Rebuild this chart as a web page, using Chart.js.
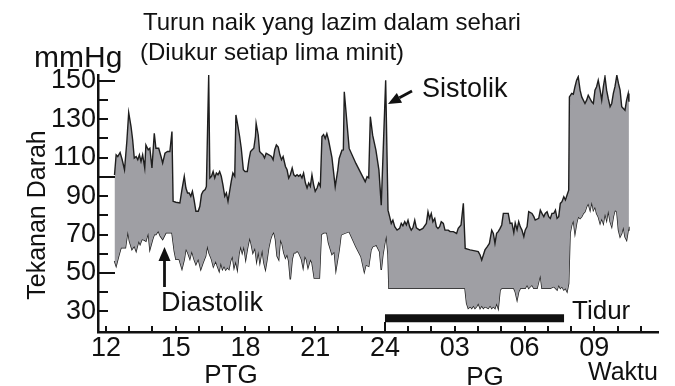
<!DOCTYPE html>
<html>
<head>
<meta charset="utf-8">
<title>Turun naik tekanan darah dalam sehari</title>
<script src="https://cdn.jsdelivr.net/npm/chart.js@4.4.0/dist/chart.umd.min.js"></script>
<style>
  html, body { margin: 0; padding: 0; background: #fff; }
</style>
</head>
<body>
<canvas id="bp" width="675" height="386"></canvas>
<script>
// time in hours from noon (24 = midnight, 33 = 09:00 next day), readings in mmHg
const sysTime = [12.37,12.44,12.51,12.61,12.70,12.80,12.90,12.98,13.08,13.15,13.22,13.30,13.37,13.44,13.51,13.58,13.67,13.72,13.82,13.89,13.98,14.08,14.15,14.27,14.37,14.44,14.54,14.65,14.75,14.84,14.89,15.01,15.18,15.27,15.37,15.44,15.51,15.58,15.65,15.72,15.79,15.87,15.97,16.04,16.11,16.18,16.27,16.32,16.42,16.47,16.54,16.61,16.68,16.75,16.82,16.89,16.96,17.03,17.11,17.18,17.25,17.32,17.39,17.46,17.54,17.59,17.68,17.75,17.82,17.91,17.98,18.08,18.15,18.22,18.29,18.36,18.43,18.46,18.55,18.61,18.68,18.75,18.82,18.89,19.01,19.12,19.19,19.26,19.33,19.41,19.48,19.55,19.62,19.72,19.79,19.86,19.93,20.01,20.08,20.15,20.22,20.29,20.36,20.43,20.50,20.58,20.65,20.72,20.79,20.86,20.93,21.00,21.08,21.15,21.22,21.29,21.36,21.43,21.50,21.57,21.72,21.86,21.97,22.03,22.15,22.21,22.25,22.46,22.75,23.04,23.15,23.23,23.30,23.37,23.47,23.61,23.74,23.84,24.03,24.13,24.20,24.27,24.34,24.42,24.52,24.63,24.70,24.77,24.85,24.92,24.99,25.06,25.13,25.20,25.28,25.35,25.49,25.63,25.78,25.85,25.92,25.99,26.06,26.14,26.21,26.28,26.35,26.42,26.51,26.58,26.72,26.80,26.94,27.08,27.15,27.27,27.37,27.45,27.66,27.87,28.01,28.09,28.16,28.23,28.30,28.40,28.49,28.59,28.66,28.73,28.80,28.87,28.95,29.02,29.09,29.19,29.30,29.38,29.46,29.54,29.60,29.68,29.75,29.82,29.89,29.97,30.03,30.11,30.18,30.32,30.40,30.46,30.61,30.68,30.75,30.83,30.89,30.97,31.04,31.11,31.18,31.26,31.33,31.40,31.47,31.54,31.61,31.69,31.76,31.83,31.90,31.93,32.03,32.10,32.17,32.24,32.31,32.39,32.46,32.60,32.67,32.74,32.89,32.96,33.03,33.10,33.17,33.25,33.32,33.39,33.46,33.53,33.60,33.68,33.75,33.82,33.89,33.97,34.04,34.11,34.18,34.25,34.32,34.39,34.46,34.49]
const sysVal = [101,111.5,110.6,112.7,108.9,103.7,118.4,133.4,126.2,119.3,109.8,110.6,108.9,111.5,108,111.5,104.6,116.6,114.1,114.9,104.6,122.7,114.9,114.9,110.6,107.2,112.3,113.2,113.2,123.6,87.3,86.8,86.4,93.4,100.3,94.2,91.6,91.6,89.9,92.5,88.2,82.1,82.1,84.7,90.8,92.5,93.4,95,153,99.4,100.3,102.8,99.4,102,101.1,102.8,100.3,96,89.9,91.6,87.3,92.5,97.7,102,100.3,132.2,126.2,121,114.9,103.7,102.8,102.8,108.9,113.2,114.1,114.9,121,127.9,121.8,113.2,112.3,111.5,109.8,112.3,111.5,110.6,108.9,114.1,116.6,115.5,111.5,108.9,110.6,105.4,103.7,99.4,101.1,104.6,101.1,100.3,101.1,100.3,101.1,99.4,102,96.8,94.2,96.8,95.1,101.1,96,92.5,94.2,96.8,95.1,121,122,120,122.5,119.3,110,94.9,103.5,109.6,113.9,114,144.3,114.8,107,100.1,97.5,100.1,99.5,131.3,121.7,113.9,103.5,85.3,150.3,82.7,79.3,75.8,77.5,74.1,72.3,73.2,75.8,74.5,76.7,75,77.5,74.1,72.3,73.5,77.5,73.5,72.3,73.2,75.8,81.9,78.4,81,76.7,78.4,74.1,73.2,74.1,76.7,75.8,72.3,72.3,71.5,71.5,70.6,73.2,75,86.2,62.8,62,61.5,61.1,59.4,56.8,59.4,62,63.7,65.4,72.3,70.6,65.4,70.6,71.5,73.2,75,81,81,81,75.8,76,71,76,72.5,76.7,74,72.3,68.9,72.3,74.1,81.9,81,79.3,77.5,78.4,82.7,81,79.3,81,81.9,79.3,78.4,81,81,82.7,78.4,79.3,86.2,87.1,89.7,88,90.6,93.1,141.6,143.4,143,146.9,150.3,152.1,145.1,141.6,138.2,139.9,142.5,139.1,138.2,145.1,146.9,150.3,145.1,139.9,146.9,152.1,145.1,140.8,136.5,138.2,143.4,146.9,152.9,148.6,145.1,136.5,135.6,134.7,139.9,143.4,139.1]

const diaTime = [12.37,12.44,12.55,12.65,12.75,12.84,12.94,13.01,13.12,13.22,13.30,13.41,13.47,13.55,13.65,13.72,13.82,13.89,14.01,14.08,14.15,14.25,14.34,14.44,14.58,14.72,14.84,14.94,15.01,15.15,15.27,15.37,15.44,15.52,15.61,15.69,15.79,15.87,15.97,16.08,16.18,16.29,16.36,16.43,16.54,16.62,16.72,16.79,16.87,16.94,17.01,17.08,17.15,17.22,17.29,17.36,17.44,17.51,17.58,17.65,17.72,17.79,17.86,17.93,18.01,18.08,18.18,18.25,18.32,18.41,18.48,18.55,18.62,18.72,18.79,18.86,18.93,19.00,19.08,19.15,19.22,19.29,19.36,19.43,19.50,19.58,19.65,19.72,19.79,19.86,19.93,20.01,20.08,20.15,20.22,20.29,20.41,20.48,20.55,20.62,20.69,20.79,20.86,20.96,21.08,21.18,21.26,21.36,21.50,21.57,21.72,21.82,21.89,22.03,22.11,22.25,22.46,22.75,22.97,23.11,23.18,23.30,23.40,23.47,23.63,23.77,23.84,23.91,23.99,24.06,24.13,24.17,24.5,25,25.5,26,26.5,27,27.44,27.51,27.58,27.66,27.73,27.80,27.87,27.94,28.01,28.09,28.16,28.23,28.30,28.44,28.52,28.59,28.66,28.73,28.80,28.87,28.95,29.02,29.54,29.60,29.68,29.75,29.82,30.03,30.11,30.18,30.25,30.32,30.40,30.54,30.61,30.68,30.75,31.11,31.26,31.33,31.40,31.47,31.54,31.61,31.69,31.76,31.83,31.90,31.96,32.03,32.10,32.17,32.24,32.31,32.39,32.46,32.53,32.60,32.67,32.74,32.82,32.89,32.96,33.03,33.10,33.17,33.25,33.32,33.39,33.46,33.53,33.60,33.68,33.75,33.82,33.89,33.97,34.04,34.11,34.18,34.25,34.32,34.39,34.46,34.49]
const diaVal = [56.2,53.6,58.8,63.1,63.1,63.1,71.8,66.6,62.3,64,61.4,66.6,64.9,67.5,67.1,66.6,70.9,62.3,67.5,70,70,71.8,69.2,67.5,70.9,70.9,70.9,61.4,57.1,57.1,52.2,57.1,62.6,60.5,57.4,61.4,57.1,54.5,57.4,51.9,55.4,58.8,64.3,60.5,57.1,53.3,56.2,53.6,51,55.4,51.9,53.6,51.6,52.8,51.9,56.2,58.8,52.8,56.2,51.9,59.7,64,60.5,64,57.1,62.3,68.4,64.9,60.5,63.1,56.2,61.4,55.4,62.3,55.4,51.9,57.1,63.1,67.5,70,71.3,67.5,58.8,57.1,67.5,64.9,60.5,57.9,59.7,56.2,46.7,57.1,60.5,60.5,61.4,60.5,57.1,52.8,58.8,57.1,52.8,57.1,55.4,47.4,47.4,47.4,70,70.9,70.9,65.7,59.7,61.1,51.6,62,69.8,70.6,71.5,63.7,58.5,50.7,54.2,53.5,62,63.7,64.5,61.1,51.6,59.4,65.4,69.8,59.4,42,42,42,42,42,42,42,42,34.2,31.6,32.5,31.6,33,31.6,32.5,34.2,31.6,33,31.6,32.5,31.6,33,31.6,32.5,31.6,34.2,31.6,41.2,42,42,40.3,36,40.3,42,42,43.8,42,42.9,43.8,42,42,45.5,49,42,42,42.9,42,41.2,43.8,42,42.9,41.2,42,40.3,44.6,70.6,75,77.5,70.6,75.8,79.3,78.4,79.3,81,81.9,84.5,86.2,82.7,87.1,82.7,84.5,81,79.3,75.8,78.4,75.8,81,77.5,82.7,76.7,74.1,79.3,82.7,81.9,72.3,68.9,70.6,74.1,68.9,67.2,72.3,74.1]

// axis labels
const hourTicks = [12, 15, 18, 21, 24, 27, 30, 33]
const hourLabels = ['12', '15', '18', '21', '24', '03', '06', '09']
const mmTicks = [30, 50, 70, 90, 110, 130, 150]

// sleep period bar
const sleepFrom = 24, sleepTo = 31.7, sleepLevel = 26.4

function pts(t, v) {
  return t.map((h, i) => ({x: h, y: v[i]}))
}

const FONT = '"Liberation Sans", Arial, sans-serif'
Chart.defaults.font.family = FONT
Chart.defaults.color = '#111'

function arrow(ctx, x1, y1, x2, y2, head, wid) {
  const ang = Math.atan2(y2 - y1, x2 - x1)
  const bx = x2 - head * Math.cos(ang), by = y2 - head * Math.sin(ang)
  ctx.beginPath()
  ctx.moveTo(x1, y1)
  ctx.lineTo(bx, by)
  ctx.stroke()
  ctx.beginPath()
  ctx.moveTo(x2, y2)
  ctx.lineTo(bx + wid / 2 * Math.sin(ang), by - wid / 2 * Math.cos(ang))
  ctx.lineTo(bx - wid / 2 * Math.sin(ang), by + wid / 2 * Math.cos(ang))
  ctx.closePath()
  ctx.fill()
}

// tick marks pointing inwards plus the free text around the plot
const extras = {
  id: 'extras',
  afterDraw(chart) {
    const {ctx, chartArea: a, scales: {x, y}} = chart
    ctx.save()
    ctx.strokeStyle = '#111'
    ctx.fillStyle = '#111'
    ctx.lineWidth = 2
    for (let v = 30; v <= 150; v += 10) {
      const py = Math.round(y.getPixelForValue(v))
      const len = v % 50 === 0 ? 17 : 10
      ctx.beginPath(); ctx.moveTo(a.left, py); ctx.lineTo(a.left + len, py); ctx.stroke()
    }
    for (let h = 12; h <= 35; h++) {
      const px = Math.round(x.getPixelForValue(h))
      const len = h === 24 ? 10 : 6
      ctx.beginPath(); ctx.moveTo(px, a.bottom); ctx.lineTo(px, a.bottom - len); ctx.stroke()
    }

    ctx.textBaseline = 'alphabetic'
    ctx.textAlign = 'left'
    ctx.font = '24px ' + FONT
    ctx.fillText('Turun naik yang lazim dalam sehari', 143, 30)
    ctx.fillText('(Diukur setiap lima minit)', 140, 60)
    ctx.font = '30px ' + FONT
    ctx.fillText('mmHg', 34, 67)

    ctx.font = '27px ' + FONT
    ctx.fillText('Sistolik', 422, 97)
    ctx.fillText('Diastolik', 161, 311)
    ctx.font = '26px ' + FONT
    ctx.fillText('Tidur', 572, 319)

    ctx.textAlign = 'center'
    ctx.fillText('PTG', 231, 383)
    ctx.fillText('PG', 485, 385)
    ctx.textAlign = 'left'
    ctx.font = '25px ' + FONT
    ctx.fillText('Waktu', 588, 380)

    ctx.save()
    ctx.translate(45, 215)
    ctx.rotate(-Math.PI / 2)
    ctx.textAlign = 'center'
    ctx.font = '25px ' + FONT
    ctx.fillText('Tekanan Darah', 0, 0)
    ctx.restore()

    ctx.lineWidth = 2.8
    arrow(ctx, 412, 91, 388, 104, 13, 11)
    arrow(ctx, 164.5, 287, 164.5, 247, 14, 12)
    ctx.restore()
  }
}

new Chart(document.getElementById('bp'), {
  type: 'line',
  data: {
    datasets: [{
      label: 'Sistolik',
      data: pts(sysTime, sysVal),
      borderColor: '#1e1e1e',
      borderWidth: 1.4,
      backgroundColor: '#9f9fa4',
      pointRadius: 0,
      tension: 0,
      fill: '+1'
    }, {
      label: 'Diastolik',
      data: pts(diaTime, diaVal),
      borderColor: '#1e1e1e',
      borderWidth: 1.4,
      pointRadius: 0,
      tension: 0,
      fill: false
    }, {
      label: 'Tidur',
      data: [{x: sleepFrom, y: sleepLevel}, {x: sleepTo, y: sleepLevel}],
      borderColor: '#111',
      borderWidth: 8,
      borderCapStyle: 'butt',
      pointRadius: 0,
      fill: false
    }]
  },
  options: {
    responsive: false,
    devicePixelRatio: 1,
    animation: false,
    layout: {padding: {top: 75, right: 17, left: 0, bottom: 0}},
    plugins: {legend: {display: false}, tooltip: {enabled: false}},
    scales: {
      x: {
        type: 'linear',
        min: 11.66,
        max: 35.74,
        afterBuildTicks: s => { s.ticks = hourTicks.map(v => ({value: v})) },
        afterFit: s => { s.height = 54 },
        ticks: {
          callback: v => hourLabels[hourTicks.indexOf(v)],
          font: {size: 27},
          color: '#111',
          padding: 0,
          maxRotation: 0,
          autoSkip: false
        },
        grid: {display: false, drawTicks: false},
        border: {display: true, color: '#111', width: 2.5}
      },
      y: {
        min: 19.3,
        max: 153,
        afterBuildTicks: s => { s.ticks = mmTicks.map(v => ({value: v})) },
        afterFit: s => { s.width = 98 },
        ticks: {font: {size: 27}, color: '#111', padding: 2},
        grid: {display: false, drawTicks: false},
        border: {display: true, color: '#111', width: 2.5}
      }
    }
  },
  plugins: [extras]
})
</script>
</body>
</html>
